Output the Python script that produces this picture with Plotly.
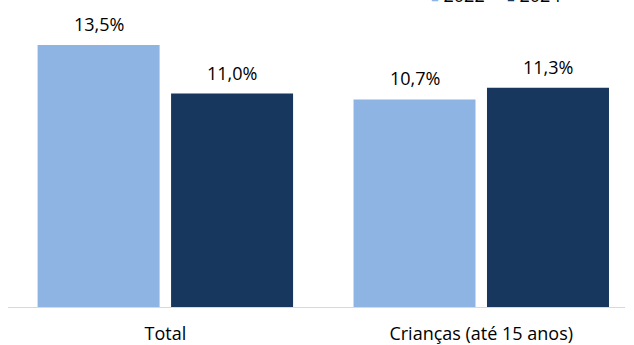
import plotly.graph_objects as go

categories = ["Total", "Crianças (até 15 anos)"]
series_names = ["2022", "2024"]
values_2022 = [13.5, 10.7]
values_2024 = [11.0, 11.3]

colors = ["#8EB4E3", "#17375E"]
font_family = "'Open Sans', sans-serif"
font_size = 18

x_pos = list(range(len(categories)))
bargap = 0.155
bargroupgap = 0.086
slot = (1 - bargap) / 2

def fmt(v):
    return f"{v:.1f}%".replace(".", ",")

fig = go.Figure()
annotations = []
for i, (name, vals) in enumerate(zip(series_names, [values_2022, values_2024])):
    fig.add_trace(go.Bar(
        x=x_pos, y=vals, name=name,
        marker=dict(color=colors[i], line=dict(width=0)),
        hoverinfo="skip", showlegend=False,
    ))
    offset = (i - 0.5) * slot
    for xp, v in zip(x_pos, vals):
        annotations.append(dict(
            x=xp + offset, y=v, xref="x", yref="y",
            text=fmt(v), showarrow=False,
            yanchor="bottom", yshift=7,
            font=dict(family=font_family, size=font_size, color="#000000"),
        ))

# legend entries (square swatch + year), sitting at the very top edge
legend_x = [0.682, 0.8055]
for name, col, lx in zip(series_names, colors, legend_x):
    annotations.append(dict(
        x=lx, y=1, xref="paper", yref="paper",
        xanchor="left", yanchor="bottom", yshift=7,
        text=f'<span style="color:{col};font-size:13px">■</span> {name}',
        showarrow=False,
        font=dict(family=font_family, size=font_size, color="#000000"),
    ))

fig.update_layout(
    width=634, height=345,
    barmode="group", bargap=bargap, bargroupgap=bargroupgap,
    plot_bgcolor="white", paper_bgcolor="white",
    margin=dict(l=8, r=9, t=16, b=38, autoexpand=False),
    font=dict(family=font_family, size=font_size, color="#000000"),
    showlegend=False,
    annotations=annotations,
)
fig.update_xaxes(
    tickmode="array", tickvals=x_pos, ticktext=categories,
    range=[-0.498, 1.455],
    showline=True, linecolor="#D9D9D9", linewidth=1,
    showgrid=False, zeroline=False, ticks="",
    tickfont=dict(family=font_family, size=font_size, color="#000000"),
    ticklabelstandoff=10,
)
fig.update_yaxes(
    range=[0, 15], visible=False, showgrid=False, zeroline=False,
)

fig.write_html("out.html")
